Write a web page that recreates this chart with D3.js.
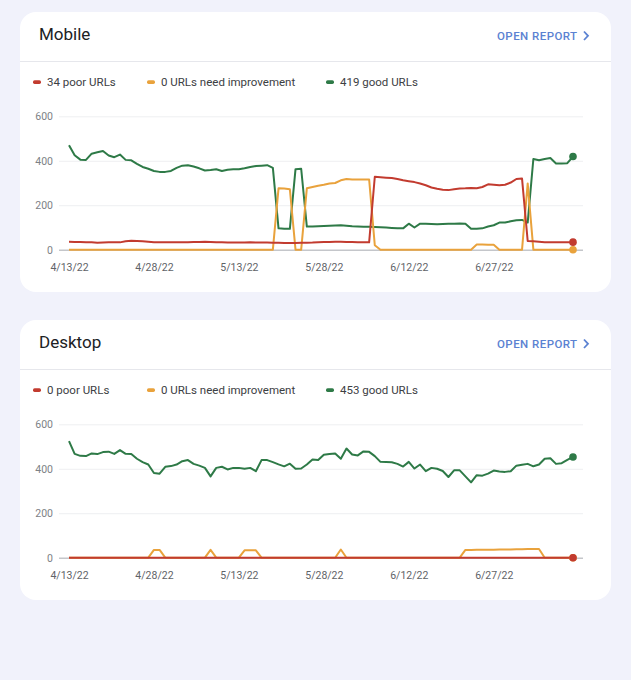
<!DOCTYPE html>
<meta charset="utf-8">
<style>
  body { margin: 0; background: #f1f2fb; }
  svg { display: block; font-family: Roboto, "Noto Sans", sans-serif; }
</style>
<body>
  <svg width="631" height="680"></svg>
  <script src="https://cdn.jsdelivr.net/npm/d3@7"></script>
  <script>

    // daily values 4/13/22 .. 7/11/22 (90 days)
    const firstDay = new Date(2022, 3, 13)
    const lastDay = new Date(2022, 6, 11)
    const tickDates = ["2022-04-13", "2022-04-28", "2022-05-13", "2022-05-28", "2022-06-12", "2022-06-27"]
    const yTicks = [0, 200, 400, 600]

    const mobilePoor = [36, 35, 35, 34, 33, 31, 32, 33, 34, 33, 38, 40, 39, 38, 36, 34, 33, 33, 33, 34,
      34, 34, 35, 35, 36, 35, 33, 33, 32, 32, 32, 32, 33, 32, 32, 32, 31, 31, 30, 30,
      30, 31, 31, 32, 34, 35, 35, 36, 36, 35, 35, 34, 34, 33, 328, 326, 324, 322, 318, 312,
      308, 304, 298, 290, 280, 274, 270, 268, 272, 275, 276, 278, 276, 282, 294, 292, 290, 292, 302, 318,
      320, 39, 38, 36, 34, 33, 33, 33, 34, 34]
    const mobileNeed = [0, 0, 0, 0, 0, 0, 0, 0, 0, 0, 0, 0, 0, 0, 0, 0, 0, 0, 0, 0,
      0, 0, 0, 0, 0, 0, 0, 0, 0, 0, 0, 0, 0, 0, 0, 0, 0, 276, 275, 272,
      0, 0, 276, 282, 288, 292, 298, 300, 312, 318, 316, 316, 316, 316, 20, 0, 0, 0, 0, 0,
      0, 0, 0, 0, 0, 0, 0, 0, 0, 0, 0, 0, 23, 23, 22, 22, 0, 0, 0, 0,
      0, 298, 0, 0, 0, 0, 0, 0, 0, 0]
    const mobileGood = [470, 425, 405, 404, 432, 438, 444, 424, 416, 428, 404, 402, 386, 372, 364, 354, 350, 350, 354, 368,
      378, 380, 374, 366, 356, 358, 362, 354, 360, 362, 362, 366, 372, 376, 378, 380, 368, 96, 94, 94,
      362, 364, 104, 104, 106, 107, 108, 109, 110, 108, 105, 104, 103, 103, 102, 101, 100, 98, 96, 96,
      117, 100, 117, 117, 116, 115, 116, 117, 117, 118, 117, 94, 94, 96, 104, 110, 122, 122, 128, 132,
      134, 122, 408, 402, 408, 412, 388, 388, 389, 419]

    const desktopPoor = [0, 0, 0, 0, 0, 0, 0, 0, 0, 0, 0, 0, 0, 0, 0, 0, 0, 0, 0, 0,
      0, 0, 0, 0, 0, 0, 0, 0, 0, 0, 0, 0, 0, 0, 0, 0, 0, 0, 0, 0,
      0, 0, 0, 0, 0, 0, 0, 0, 0, 0, 0, 0, 0, 0, 0, 0, 0, 0, 0, 0,
      0, 0, 0, 0, 0, 0, 0, 0, 0, 0, 0, 0, 0, 0, 0, 0, 0, 0, 0, 0,
      0, 0, 0, 0, 0, 0, 0, 0, 0, 0]
    const desktopNeed = [0, 0, 0, 0, 0, 0, 0, 0, 0, 0, 0, 0, 0, 0, 0, 35, 35, 0, 0, 0,
      0, 0, 0, 0, 0, 35, 0, 0, 0, 0, 0, 33, 33, 33, 0, 0, 0, 0, 0, 0,
      0, 0, 0, 0, 0, 0, 0, 0, 37, 0, 0, 0, 0, 0, 0, 0, 0, 0, 0, 0,
      0, 0, 0, 0, 0, 0, 0, 0, 0, 0, 35, 35, 36, 36, 36, 36, 37, 37, 37, 38,
      38, 39, 39, 39, 0, 0, 0, 0, 0, 0]
    const desktopGood = [524, 467, 458, 457, 469, 466, 475, 477, 467, 484, 467, 466, 445, 430, 419, 381, 378, 409, 412, 419,
      434, 439, 422, 414, 404, 366, 404, 409, 397, 404, 404, 400, 404, 389, 439, 439, 430, 420, 411, 423,
      400, 401, 419, 442, 439, 463, 466, 469, 445, 491, 464, 460, 478, 476, 457, 431, 430, 429, 422, 410,
      431, 401, 419, 389, 404, 400, 390, 363, 393, 393, 366, 339, 371, 369, 378, 392, 388, 386, 389, 414,
      418, 422, 411, 419, 445, 447, 422, 425, 440, 453]

    const mobileLegend = ["34 poor URLs", "0 URLs need improvement", "419 good URLs"]
    const desktopLegend = ["0 poor URLs", "0 URLs need improvement", "453 good URLs"]

    const colors = { poor: "#c23b2f", need: "#e9a23c", good: "#2e7a47" }

    const days = d3.timeDay.range(firstDay, d3.timeDay.offset(lastDay, 1))
    const parse = d3.timeParse("%Y-%m-%d")

    const svg = d3.select("svg")
    svg.append("rect").attr("width", 631).attr("height", 680).attr("fill", "#f1f2fb")

    const x = d3.scaleTime().domain([firstDay, lastDay]).range([69, 573])

    const drawCard = (top, title, legend, series) => {
      const dy = top - 12
      const g = svg.append("g")

      g.append("rect")
        .attr("x", 20).attr("y", top).attr("width", 591).attr("height", 280)
        .attr("rx", 16).attr("fill", "#fff")

      g.append("text").attr("x", 39).attr("y", 40 + dy)
        .attr("font-size", 17).attr("fill", "#202124").text(title)

      g.append("text").attr("x", 497).attr("y", 40 + dy)
        .attr("font-size", 11.5).attr("font-weight", 500)
        .attr("letter-spacing", 0.45).attr("fill", "#5b82d2").text("OPEN REPORT")
      g.append("path")
        .attr("d", `M584,${31.5 + dy}L588,${35.8 + dy}L584,${40 + dy}`)
        .attr("fill", "none").attr("stroke", "#5b82d2").attr("stroke-width", 1.8)

      g.append("line").attr("x1", 20).attr("x2", 611)
        .attr("y1", 61.5 + dy).attr("y2", 61.5 + dy)
        .attr("stroke", "#e6e7ec").attr("stroke-width", 1.2)

      // legend
      const legendX = [33, 147, 326]
      const keys = ["poor", "need", "good"]
      keys.forEach((k, i) => {
        g.append("rect").attr("x", legendX[i]).attr("y", 80.3 + dy)
          .attr("width", 8).attr("height", 3.6).attr("rx", 1.6).attr("fill", colors[k])
        g.append("text").attr("x", legendX[i] + 14).attr("y", 86.3 + dy)
          .attr("font-size", 11.5).attr("fill", "#3c4043").text(legend[i])
      })

      const y = d3.scaleLinear().domain([0, 600]).range([249.7 + dy, 116.3 + dy])

      const yAxis = g.append("g")
        .attr("transform", "translate(59,0)")
        .call(d3.axisLeft(y).tickValues(yTicks).tickSize(-524).tickPadding(6))
      yAxis.select(".domain").remove()
      yAxis.selectAll(".tick line")
        .attr("stroke", d => d === 0 ? "#c4c6ca" : "#eeeff1")
        .attr("stroke-width", d => d === 0 ? 1.6 : 1)
      yAxis.selectAll(".tick text")
        .attr("fill", "#7d8186").attr("font-size", 10.5).attr("font-family", "Roboto")

      const xAxis = g.append("g")
        .attr("transform", `translate(0,${249.7 + dy})`)
        .call(d3.axisBottom(x).tickValues(tickDates.map(parse))
          .tickFormat(d3.timeFormat("%-m/%-d/%y")).tickSize(0).tickPadding(14))
      xAxis.select(".domain").remove()
      xAxis.selectAll(".tick text")
        .attr("fill", "#5f6368").attr("font-size", 10.5).attr("font-family", "Roboto")

      const line = d3.line()
        .x((d, i) => x(days[i]))
        .y(d => y(d))

      ;["good", "need", "poor"].forEach(k => {
        g.append("path").datum(series[k])
          .attr("d", line)
          .attr("fill", "none")
          .attr("stroke", colors[k])
          .attr("stroke-width", 2)
          .attr("stroke-linejoin", "round")
      })
      ;["good", "need", "poor"].forEach(k => {
        const vals = series[k]
        g.append("circle")
          .attr("cx", x(days[vals.length - 1]))
          .attr("cy", y(vals[vals.length - 1]))
          .attr("r", 3.8).attr("fill", colors[k])
      })
    }

    drawCard(12, "Mobile", mobileLegend, { poor: mobilePoor, need: mobileNeed, good: mobileGood })
    drawCard(320, "Desktop", desktopLegend, { poor: desktopPoor, need: desktopNeed, good: desktopGood })

  </script>
</body>
